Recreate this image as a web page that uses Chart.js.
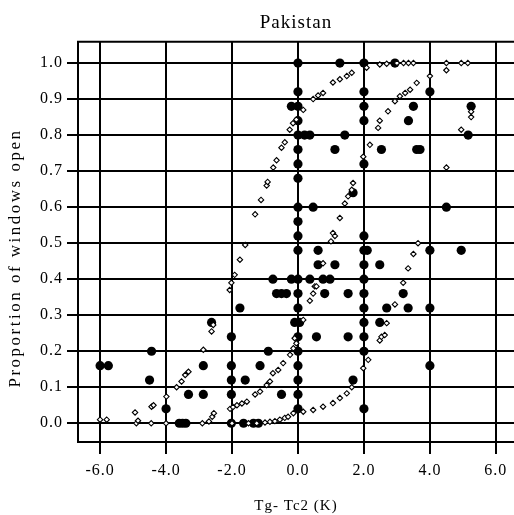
<!DOCTYPE html>
<html>
<head>
<meta charset="utf-8">
<script src="https://cdn.jsdelivr.net/npm/chart.js@4.4.1/dist/chart.umd.min.js"></script>
<style>
  html, body { margin: 0; padding: 0; background: #fff; overflow: hidden; }
  canvas { display: block; }
</style>
</head>
<body>
<canvas id="chart" width="514" height="515"></canvas>
<script>
// observed proportions (filled dots)
const obsX = [
  0, 0, 0, 0, 0, 0, 0, 0, 0, 0, 0, 0, 0, 0, 0, 0, 0, 0, 0, 0, 0,
  2, 2, 2, 2, 2, 2, 2, 2, 2, 2, 2, 2, 2, 2, 2,
  1.27, 2.94, 4.0, -0.2, 3.5, 5.25, 3.35, 0.2, 0.36, 1.42, 5.16,
  1.12, 2.53, 3.6, 3.7, 1.67, 0.46, 4.5, 0.61, 2.1, 4.0, 4.95,
  0.61, 1.12, 2.48, -0.76, -0.2, 0.36, 0.76, 0.97,
  -0.65, -0.5, -0.35, 0.81, 1.52, 3.19, -1.76, 2.69, 3.34, 4.0,
  -2.62, -0.1, 0.05, 2.48, -2.02, 0.56, 1.52, -4.44, -0.9,
  -6.0, -5.75, -2.87, -2.02, -1.15, 4.0, -4.5, -2.02, -1.6, 1.67,
  -3.32, -2.87, -2.02, -0.5, -4.0,
  -3.6, -3.5, -3.4, -2.02, -1.65, -1.35, -1.2
];
const obsY = [
  1.0, 0.92, 0.88, 0.84, 0.80, 0.76, 0.72, 0.68, 0.60, 0.56, 0.52, 0.48, 0.40, 0.36, 0.32, 0.24, 0.20, 0.16, 0.12, 0.08, 0.04,
  1.0, 0.92, 0.88, 0.84, 0.72, 0.52, 0.48, 0.44, 0.40, 0.36, 0.32, 0.28, 0.24, 0.20, 0.04,
  1.0, 1.0, 0.92, 0.88, 0.88, 0.88, 0.84, 0.80, 0.80, 0.80, 0.80,
  0.76, 0.76, 0.76, 0.76, 0.64, 0.60, 0.60, 0.48, 0.48, 0.48, 0.48,
  0.44, 0.44, 0.44, 0.40, 0.40, 0.40, 0.40, 0.40,
  0.36, 0.36, 0.36, 0.36, 0.36, 0.36, 0.32, 0.32, 0.32, 0.32,
  0.28, 0.28, 0.28, 0.28, 0.24, 0.24, 0.24, 0.20, 0.20,
  0.16, 0.16, 0.16, 0.16, 0.16, 0.16, 0.12, 0.12, 0.12, 0.12,
  0.08, 0.08, 0.08, 0.08, 0.04,
  0.0, 0.0, 0.0, 0.0, 0.0, 0.0, 0.0
];

// predicted proportions (open markers), three fitted curves
const fitAX = [-6.0, -5.8, -4.94, -4.85, -4.44, -4.38, -3.99, -3.68, -3.53, -3.42, -3.32, -2.87, -2.62, -2.57,
  -2.07, -2.02, -1.92, -1.76, -1.6, -1.3, -1.12, -0.95, -0.92, -0.75, -0.65, -0.5, -0.4, -0.25, -0.15, -0.05,
  0.16, 0.46, 0.61, 0.76, 1.06, 1.27, 1.48, 1.63, 2.08, 2.48, 2.69, 3.0, 3.2, 3.35, 3.5, 4.5, 4.95, 5.15];
const fitAY = [0.01, 0.01, 0.03, 0.007, 0.046, 0.05, 0.074, 0.10, 0.116, 0.134, 0.143, 0.204, 0.255, 0.273,
  0.37, 0.39, 0.412, 0.454, 0.495, 0.58, 0.62, 0.66, 0.67, 0.71, 0.73, 0.765, 0.78, 0.815, 0.833, 0.843,
  0.87, 0.90, 0.91, 0.917, 0.946, 0.955, 0.964, 0.973, 0.987, 0.996, 0.998, 1.0, 1.0, 1.0, 1.0, 1.0, 1.0, 1.0];

const fitBX = [-2.06, -1.97, -1.85, -1.7, -1.55, -1.3, -1.15, -0.95, -0.85, -0.76, -0.6, -0.45, -0.24, -0.14, -0.05,
  -0.1, 0.16, 0.36, 0.46, 0.51, 0.56, 0.76, 1.0, 1.06, 1.12, 1.27, 1.42, 1.52, 1.63, 1.67, 1.98, 2.18,
  2.43, 2.48, 2.73, 2.94, 3.09, 3.25, 3.4, 3.6, 4.0, 4.5];
const fitBY = [0.04, 0.045, 0.05, 0.055, 0.06, 0.08, 0.088, 0.106, 0.116, 0.139, 0.148, 0.167, 0.19, 0.208, 0.222,
  0.236, 0.287, 0.34, 0.36, 0.38, 0.38, 0.444, 0.505, 0.528, 0.52, 0.57, 0.61, 0.63, 0.648, 0.667, 0.74, 0.773,
  0.82, 0.84, 0.866, 0.894, 0.908, 0.917, 0.926, 0.945, 0.964, 0.98];

const fitCX = [-4.9, -4.45, -4.0, -2.9, -2.7, -2.6, -2.55, -2.0, -1.5, -1.25,
  -1.0, -0.85, -0.7, -0.55, -0.4, -0.3, -0.14, 0.16, 0.46, 0.76, 1.06, 1.27, 1.48, 1.63, 1.98, 2.13,
  2.48, 2.53, 2.63, 2.69, 2.94, 3.19, 3.34, 3.5, 3.64, 4.5, 4.95, 5.25, 5.25];
const fitCY = [0.0, 0.0, 0.0, 0.0, 0.005, 0.018, 0.028, 0.0, 0.0, 0.0,
  0.002, 0.004, 0.006, 0.01, 0.015, 0.018, 0.028, 0.032, 0.037, 0.046, 0.056, 0.07, 0.083, 0.10, 0.153, 0.176,
  0.23, 0.24, 0.245, 0.278, 0.33, 0.39, 0.43, 0.47, 0.50, 0.71, 0.815, 0.85, 0.865];

const xTicks = [-6, -4, -2, 0, 2, 4, 6];

const pairs = (xs, ys) => xs.map((x, i) => ({ x: x, y: ys[i] }));

const openStyle = {
  showLine: false,
  pointStyle: "rectRot",
  pointRadius: 2.7,
  borderWidth: 1.1,
  borderColor: "#000",
  backgroundColor: "#fff",
};

const frame = {
  id: "frame",
  beforeDraw(chart) {
    chart.ctx.letterSpacing = "1px";
  },
  beforeDatasetsDraw(chart) {
    const { ctx, chartArea: a } = chart;
    ctx.save();
    ctx.strokeStyle = "#000";
    ctx.lineWidth = 2;
    ctx.beginPath();
    ctx.moveTo(a.right, a.top);
    ctx.lineTo(a.left, a.top);
    ctx.lineTo(a.left, a.bottom);
    ctx.stroke();
    ctx.restore();
  },
  afterDraw(chart) {
    const ctx = chart.ctx;
    ctx.save();
    ctx.letterSpacing = "2.5px";
    ctx.translate(16, 258);
    ctx.rotate(-Math.PI / 2);
    ctx.textAlign = "center";
    ctx.textBaseline = "middle";
    ctx.fillStyle = "#000";
    ctx.font = "17px 'Liberation Serif'";
    ctx.fillText("Proportion of windows open", 0, 0);
    ctx.restore();
  },
};

Chart.defaults.font.family = "'Liberation Serif', 'Times New Roman', serif";
Chart.defaults.color = "#000";

const config = {
  type: "scatter",
  data: {
    datasets: [
      { ...openStyle, label: "fit A", data: pairs(fitAX, fitAY) },
      { ...openStyle, label: "fit B", data: pairs(fitBX, fitBY) },
      { ...openStyle, label: "fit C", data: pairs(fitCX, fitCY) },
      {
        label: "observed",
        data: pairs(obsX, obsY),
        pointStyle: "circle",
        pointRadius: 4.6,
        borderWidth: 0,
        backgroundColor: "#000",
      },
    ],
  },
  options: {
    responsive: false,
    animation: false,
    layout: { padding: 0, autoPadding: false },
    plugins: {
      legend: { display: false },
      tooltip: { enabled: false },
      title: {
        display: true,
        text: "Pakistan",
        fullSize: false,
        font: { size: 19, weight: "normal" },
        padding: { top: 12, bottom: 7 },
      },
    },
    scales: {
      x: {
        type: "linear",
        min: -6.67,
        max: 6.55,
        afterFit: (s) => {
          s.height = 73;
          s.paddingLeft = 0;
          s.paddingRight = 0;
        },
        afterBuildTicks: (s) => { s.ticks = xTicks.map((v) => ({ value: v })); },
        ticks: {
          includeBounds: false,
          padding: 7,
          font: { size: 16 },
          callback: (v) => Number(v).toFixed(1),
        },
        grid: { color: "#000", lineWidth: 2, tickLength: 12, tickColor: "#000" },
        border: { display: true, color: "#000", width: 2 },
        title: {
          display: true,
          text: "Tg- Tc2 (K)",
          font: { size: 15 },
          padding: { top: 0, bottom: 0 },
        },
      },
      y: {
        type: "linear",
        min: -0.052,
        max: 1.059,
        afterFit: (s) => {
          s.width = 78;
          s.paddingTop = 0;
          s.paddingBottom = 0;
        },
        ticks: {
          includeBounds: false,
          stepSize: 0.1,
          padding: 4,
          font: { size: 16 },
          callback: (v) => Number(v).toFixed(1),
        },
        grid: { color: "#000", lineWidth: 2, tickLength: 11, tickColor: "#000" },
        border: { display: true, color: "#000", width: 2 },
      },
    },
  },
  plugins: [frame],
};

const chartJs = document.querySelector("#chart");
let mychart = new Chart(chartJs, config);
</script>
</body>
</html>
